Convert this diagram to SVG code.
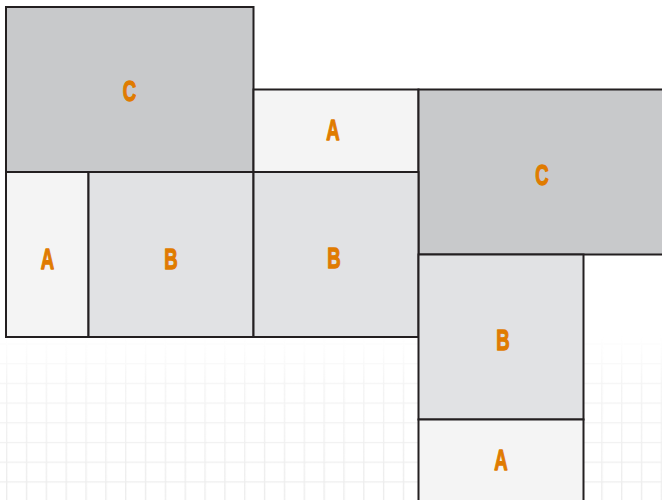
<svg xmlns="http://www.w3.org/2000/svg" width="662" height="500" viewBox="0 0 662 500">
<style>
.box{stroke:#231f20;stroke-width:2}
.a{fill:#f4f4f4}
.b{fill:#e1e2e4}
.c{fill:#c8c9cb}
.lbl{font-family:"Liberation Sans",Arial,sans-serif;font-weight:bold;font-size:30px;fill:#e07b00;stroke:#e07b00;stroke-width:1.3;stroke-linejoin:round;text-anchor:middle}
</style>
<defs>
<pattern id="grid" patternUnits="userSpaceOnUse" x="6" y="8.5" width="19.84" height="19.7">
<path d="M0.7 0V19.7M0 0.7H19.84" stroke="#ececec" stroke-width="1.3" fill="none"/>
</pattern>
<linearGradient id="fade" x1="0" y1="0" x2="0" y2="1">
<stop offset="0" stop-color="#fff" stop-opacity="0"/>
<stop offset="0.3" stop-color="#fff" stop-opacity="0.6"/>
<stop offset="1" stop-color="#fff" stop-opacity="1"/>
</linearGradient>
<mask id="gm" maskUnits="userSpaceOnUse" x="0" y="330" width="662" height="170">
<rect x="0" y="335" width="662" height="165" fill="url(#fade)"/>
</mask>
</defs>
<rect width="662" height="500" fill="#ffffff"/>
<rect x="0" y="335" width="662" height="165" fill="url(#grid)" mask="url(#gm)"/>
<g id="c1"><rect class="box c" x="6" y="7" width="247.5" height="165"/><text class="lbl" transform="translate(129.5 100.5) scale(0.62 1)">C</text></g>
<g id="a1"><rect class="box a" x="253.5" y="89.5" width="165" height="82.5"/><text class="lbl" transform="translate(333 139.5) scale(0.62 1)">A</text></g>
<g id="c2"><rect class="box c" x="418.5" y="89.5" width="250" height="165"/><text class="lbl" transform="translate(542 184.5) scale(0.62 1)">C</text></g>
<g id="a2"><rect class="box a" x="6" y="172" width="82.5" height="165"/><text class="lbl" transform="translate(47.5 268.5) scale(0.62 1)">A</text></g>
<g id="b1"><rect class="box b" x="88.5" y="172" width="165" height="165"/><text class="lbl" transform="translate(171 268.5) scale(0.62 1)">B</text></g>
<g id="b2"><rect class="box b" x="253.5" y="172" width="165" height="165"/><text class="lbl" transform="translate(334 267.5) scale(0.62 1)">B</text></g>
<g id="b3"><rect class="box b" x="418.5" y="254.5" width="165" height="165"/><text class="lbl" transform="translate(503 349.5) scale(0.62 1)">B</text></g>
<g id="a3"><rect class="box a" x="418.5" y="419.5" width="165" height="90"/><text class="lbl" transform="translate(501 469.5) scale(0.62 1)">A</text></g>
<g id="connectors"></g>
</svg>
